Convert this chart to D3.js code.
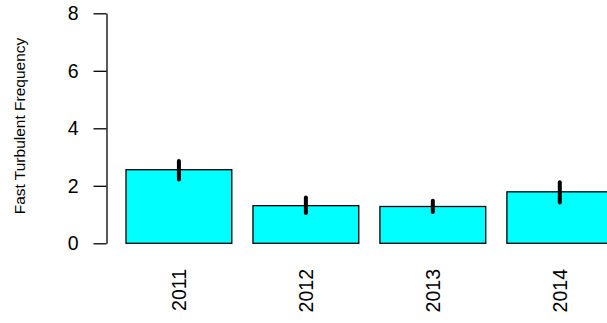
<!DOCTYPE html>
<html>
<head>
<meta charset="utf-8">
<script src="https://cdn.jsdelivr.net/npm/d3@7"></script>
<style>
  body { margin: 0; background: #fff; }
  svg { display: block; font-family: "Liberation Sans", Arial, sans-serif; }
</style>
</head>
<body>
<div class="canvas"></div>
<script>
// chart values
const years = ['2011', '2012', '2013', '2014'];
const means = [2.56, 1.31, 1.28, 1.79];
const lower = [2.22, 1.05, 1.09, 1.42];
const upper = [2.86, 1.59, 1.48, 2.12];
const yTicks = [0, 2, 4, 6, 8];

const dims = {width: 607, height: 323};

const svg = d3.select('.canvas')
    .append('svg')
    .attr('width', dims.width)
    .attr('height', dims.height);

const y = d3.scaleLinear()
    .domain([0, 8])
    .range([243.3, 13.3]);

// barplot layout: width 1, space 0.2
const x = d3.scaleBand()
    .domain(years)
    .range([106.5, 632.2])
    .paddingInner(0.2 / 1.2)
    .paddingOuter(0.1536);

const data = years.map((yr, i) => ({year: yr, mean: means[i], lo: lower[i], hi: upper[i]}));

// bars
svg.selectAll('rect.bar')
  .data(data)
  .enter()
  .append('rect')
    .attr('class', 'bar')
    .attr('x', d => x(d.year))
    .attr('y', d => y(d.mean))
    .attr('width', x.bandwidth())
    .attr('height', d => y(0) - y(d.mean))
    .attr('fill', '#00ffff')
    .attr('stroke', '#000')
    .attr('stroke-width', 1.3);

// error bars
svg.selectAll('line.err')
  .data(data)
  .enter()
  .append('line')
    .attr('class', 'err')
    .attr('x1', d => x(d.year) + x.bandwidth() / 2)
    .attr('x2', d => x(d.year) + x.bandwidth() / 2)
    .attr('y1', d => y(d.lo))
    .attr('y2', d => y(d.hi))
    .attr('stroke', '#000')
    .attr('stroke-width', 4)
    .attr('stroke-linecap', 'round');

// y axis
const yAxis = svg.append('g')
    .attr('transform', 'translate(106.5,0)')
    .call(d3.axisLeft(y).tickValues(yTicks).tickFormat(d3.format('d'))
      .tickSize(13).tickSizeOuter(0).tickPadding(15));

yAxis.select('.domain').attr('stroke-width', 1.3);
yAxis.selectAll('.tick line').attr('stroke-width', 1.3);
yAxis.selectAll('.tick text')
    .attr('font-size', 19.5)
    .attr('font-family', '"Liberation Sans", Arial, sans-serif')
    .attr('fill', '#000');

// x labels (rotated)
svg.selectAll('text.xlab')
  .data(data)
  .enter()
  .append('text')
    .attr('class', 'xlab')
    .attr('transform', d => `translate(${x(d.year) + x.bandwidth() / 2 + 7},269) rotate(-90)`)
    .attr('text-anchor', 'end')
    .attr('font-size', 19.5)
    .text(d => d.year);

// y title
svg.append('text')
    .attr('transform', 'translate(24.5,126) rotate(-90)')
    .attr('text-anchor', 'middle')
    .attr('font-size', 15.5)
    .text('Fast Turbulent Frequency');
</script>
</body>
</html>
